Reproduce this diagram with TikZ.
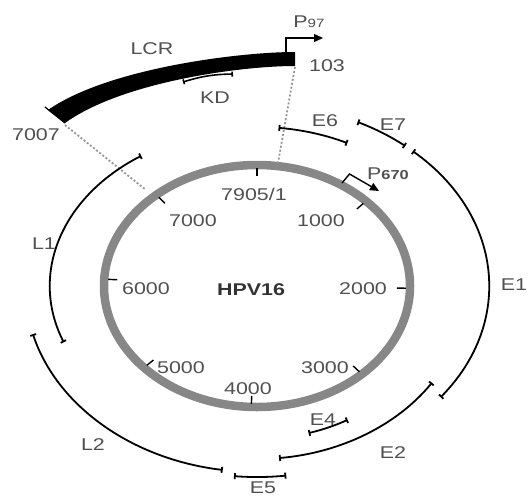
\documentclass[tikz,border=0pt]{standalone}
\usepackage{fontspec}
\setmainfont[FakeStretch=1.26]{Liberation Sans}
\usetikzlibrary{arrows.meta}
\definecolor{ring}{RGB}{135,135,135}
\definecolor{txt}{RGB}{80,80,80}
\definecolor{dots}{RGB}{150,150,150}
\newcommand\genearc[4]{\draw[gene,shift={(257,-286)}] (#1:#3 and #4) arc[start angle=#1, end angle=#2, x radius=#3, y radius=#4];}
\begin{document}
\begin{tikzpicture}[x=1pt,y=1pt,
  lbl/.style={inner sep=0pt, text=txt, text height=12pt, text depth=0pt, font=\fontsize{17}{17}\selectfont},
  gene/.style={line width=1.8pt, arrows={Bar[width=6pt]-Bar[width=6pt]}},
  prom/.style={line width=1.4pt, arrows={-Triangle[length=9pt,width=8pt]}},
  dotline/.style={dots, line width=1.8pt, dash pattern=on 2pt off 2pt}]
\useasboundingbox (0,0) rectangle (529,-498);

% genome ring
\draw[ring, line width=8.5pt] (257,-286) ellipse[x radius=153, y radius=121];
\foreach \k in {0,...,7}{
  \pgfmathsetmacro\th{90-\k*45.5408}
  \draw[line width=1.4pt, shift={(257,-286)}] (\th:149 and 118) -- (\th:140 and 110);
}

% LCR bar
\fill (48,-110) .. controls (108,-68) and (240,-52) .. (295,-52) -- (295,-66) .. controls (240,-66) and (122,-82) .. (65,-123) -- cycle;
\draw[line width=1.3pt] (65,-123) -- (45,-107);

% dotted guides
\coordinate (lcrL) at (65,-125);
\coordinate (ringL) at (146,-190);
\coordinate (lcrR) at (295,-67);
\coordinate (ringR) at (278,-163);
\draw[dotline] (lcrL) -- (ringL);
\draw[dotline] (lcrR) -- (ringR);

% KD
\coordinate (kdA) at (183,-82);
\coordinate (kdB) at (233,-74);
\draw[line width=1.6pt, arrows={Bar[width=5pt]-Bar[width=5pt]}] (kdA) to[bend left=8] (kdB);

% genes
\genearc{124}{201}{207}{157}   % L1
\genearc{84}{64}{206}{159}     % E6
\genearc{64.3}{50.3}{232}{182} % E7
\genearc{47.8}{-37.7}{232}{182}% E1
\genearc{-34}{-84}{211}{173}   % E2
\genearc{-61}{-74}{187}{153}   % E4
\genearc{-83}{-95.5}{240}{191} % E5
\genearc{195}{261.5}{232}{186} % L2

% promoters
\coordinate (p97a) at (286,-52);
\coordinate (p97b) at (323,-38);
\draw[prom] (p97a) |- (p97b);
\coordinate (p670a) at (342,-183);
\coordinate (p670b) at (349.5,-174);
\coordinate (p670c) at (379,-191);
\draw[prom] (p670a) -- (p670b) -- (p670c);

% labels
\node[lbl] (tLCR) at (152,-48) {LCR};
\node[lbl] (tKD) at (215,-97) {KD};
\node[lbl] (t103) at (327,-65) {103};
\node[lbl] (t7007) at (36,-134) {7007};
\node[lbl] (tE6) at (325,-120) {E6};
\node[lbl] (tE7) at (393,-124) {E7};
\node[lbl] (tE1) at (514,-284) {E1};
\node[lbl] (tL1) at (44,-243) {L1};
\node[lbl] (tL2) at (93,-444) {L2};
\node[lbl] (tE2) at (393,-452) {E2};
\node[lbl] (tE4) at (323,-419) {E4};
\node[lbl] (tE5) at (263,-487) {E5};
\node[lbl] (tP97) at (309,-21) {P{\fontsize{12}{12}\selectfont 97}};
\node[lbl] (tP670) at (388,-173.5) {P{\fontsize{13}{13}\selectfont\bfseries 670}};

\node[lbl] (n0) at (254,-194) {7905/1};
\node[lbl] (n7) at (193,-220) {7000};
\node[lbl] (n1) at (321,-220) {1000};
\node[lbl] (n6) at (146,-288) {6000};
\node[lbl] (n2) at (363,-288) {2000};
\node[lbl] (n5) at (181,-367) {5000};
\node[lbl] (n3) at (325,-367) {3000};
\node[lbl] (n4) at (248,-388) {4000};
\node[lbl, text=black!80, font=\fontsize{17}{17}\selectfont\bfseries] (hpv) at (251,-289) {HPV16};
\end{tikzpicture}
\end{document}
